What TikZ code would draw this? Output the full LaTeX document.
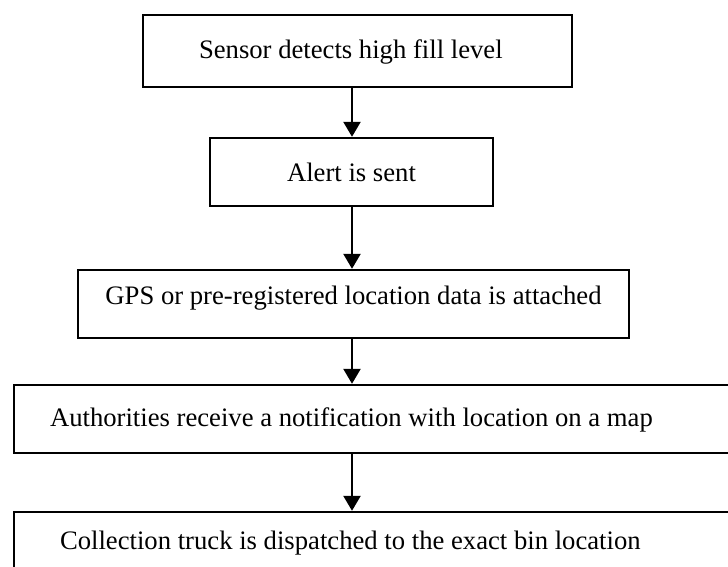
\documentclass[tikz,border=0pt]{standalone}
\usepackage{fontspec}
\setmainfont{Liberation Serif}
\usetikzlibrary{arrows.meta}
\newlength\px
\setlength\px{0.75pt}
\newcommand\stepfont{\fontsize{20}{24}\selectfont}
\tikzset{
  stepbox/.style={draw=black, line width=2.4\px, rectangle, inner ysep=0pt, font=\stepfont},
  flow/.style={-{Triangle[length=11.25pt,width=12.75pt]}, line width=2.4\px},
}
\begin{document}
\begin{tikzpicture}[x=0.75pt,y=-0.75pt]
\useasboundingbox (0,0) rectangle (728,567);
\clip (0,0) rectangle (728,567);
\coordinate (axis) at (352,0);
\node[stepbox, align=flush left, inner xsep=56\px, text width=317\px, minimum height=72\px, text height=20\px, text depth=4\px] (sensor) at (357.5,51) {Sensor detects high fill level};
\node[stepbox, minimum width=283\px, minimum height=68\px, text height=20\px, text depth=2\px] (alert) at (351.5,172) {Alert is sent};
\node[stepbox, minimum width=551\px, minimum height=68\px, text height=12\px, text depth=12\px] (gps) at (353.5,304) {GPS or pre-registered location data is attached};
\node[stepbox, align=flush left, inner xsep=36\px, text width=674\px, minimum height=68\px, text height=18\px, text depth=4\px] (notify) at (387,419) {Authorities receive a notification with location on a map};
\node[stepbox, align=flush left, inner xsep=46\px, text width=654\px, minimum height=68\px, text height=14\px, text depth=8\px] (truck) at (387,546) {Collection truck is dispatched to the exact bin location};
\draw[flow] (sensor.south -| axis) -- (alert.north -| axis);
\draw[flow] (alert.south -| axis) -- (gps.north -| axis);
\draw[flow] (gps.south -| axis) -- (notify.north -| axis);
\draw[flow] (notify.south -| axis) -- (truck.north -| axis);
\end{tikzpicture}
\end{document}
